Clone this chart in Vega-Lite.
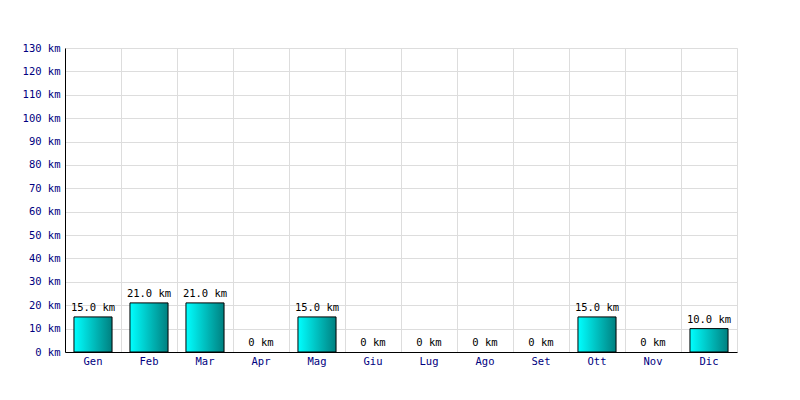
{
  "$schema": "https://vega.github.io/schema/vega-lite/v6.json",
  "autosize": "none",
  "width": 672,
  "height": 304,
  "padding": {"left": 65, "top": 48, "right": 63, "bottom": 48},
  "background": "#ffffff",
  "config": {
    "view": {"stroke": "#dddddd"},
    "font": "DejaVu Sans Mono"
  },
  "data": {
    "values": [
      {"mese": "Gen", "km": 15, "label": "15.0 km"},
      {"mese": "Feb", "km": 21, "label": "21.0 km"},
      {"mese": "Mar", "km": 21, "label": "21.0 km"},
      {"mese": "Apr", "km": 0, "label": "0 km"},
      {"mese": "Mag", "km": 15, "label": "15.0 km"},
      {"mese": "Giu", "km": 0, "label": "0 km"},
      {"mese": "Lug", "km": 0, "label": "0 km"},
      {"mese": "Ago", "km": 0, "label": "0 km"},
      {"mese": "Set", "km": 0, "label": "0 km"},
      {"mese": "Ott", "km": 15, "label": "15.0 km"},
      {"mese": "Nov", "km": 0, "label": "0 km"},
      {"mese": "Dic", "km": 10, "label": "10.0 km"}
    ]
  },
  "encoding": {
    "x": {
      "field": "mese", "type": "nominal",
      "sort": ["Gen","Feb","Mar","Apr","Mag","Giu","Lug","Ago","Set","Ott","Nov","Dic"],
      "scale": {"domain": ["Gen","Feb","Mar","Apr","Mag","Giu","Lug","Ago","Set","Ott","Nov","Dic"], "paddingInner": 0, "paddingOuter": 0},
      "axis": {
        "title": null, "labelAngle": 0, "ticks": false, "tickSize": 0,
        "domainColor": "#000000", "labelColor": "#000080",
        "labelFont": "DejaVu Sans Mono", "labelFontSize": 10.5, "labelPadding": 4,
        "grid": true, "gridColor": "#dddddd", "bandPosition": 0
      }
    },
    "y": {
      "field": "km", "type": "quantitative",
      "scale": {"domain": [0, 130], "nice": false},
      "axis": {
        "title": null, "values": [0,10,20,30,40,50,60,70,80,90,100,110,120,130],
        "labelExpr": "datum.value + ' km'", "ticks": false, "tickSize": 0,
        "domainColor": "#000000", "labelColor": "#000080",
        "labelFont": "DejaVu Sans Mono", "labelFontSize": 10.5, "labelPadding": 5,
        "gridColor": "#dddddd"
      }
    }
  },
  "layer": [
    {
      "transform": [{"filter": "datum.km > 0"}],
      "mark": {
        "type": "bar", "stroke": "#000000", "strokeWidth": 1,
        "width": {"band": 0.68},
        "fill": {
          "gradient": "linear", "x1": 0, "x2": 1, "y1": 0, "y2": 0,
          "stops": [
            {"offset": 0, "color": "#00ffff"},
            {"offset": 1, "color": "#008080"}
          ]
        }
      }
    },
    {
      "mark": {
        "type": "text", "baseline": "bottom", "dy": -4,
        "font": "DejaVu Sans Mono", "fontSize": 10.5, "color": "#000000"
      },
      "encoding": {"text": {"field": "label"}}
    }
  ]
}
